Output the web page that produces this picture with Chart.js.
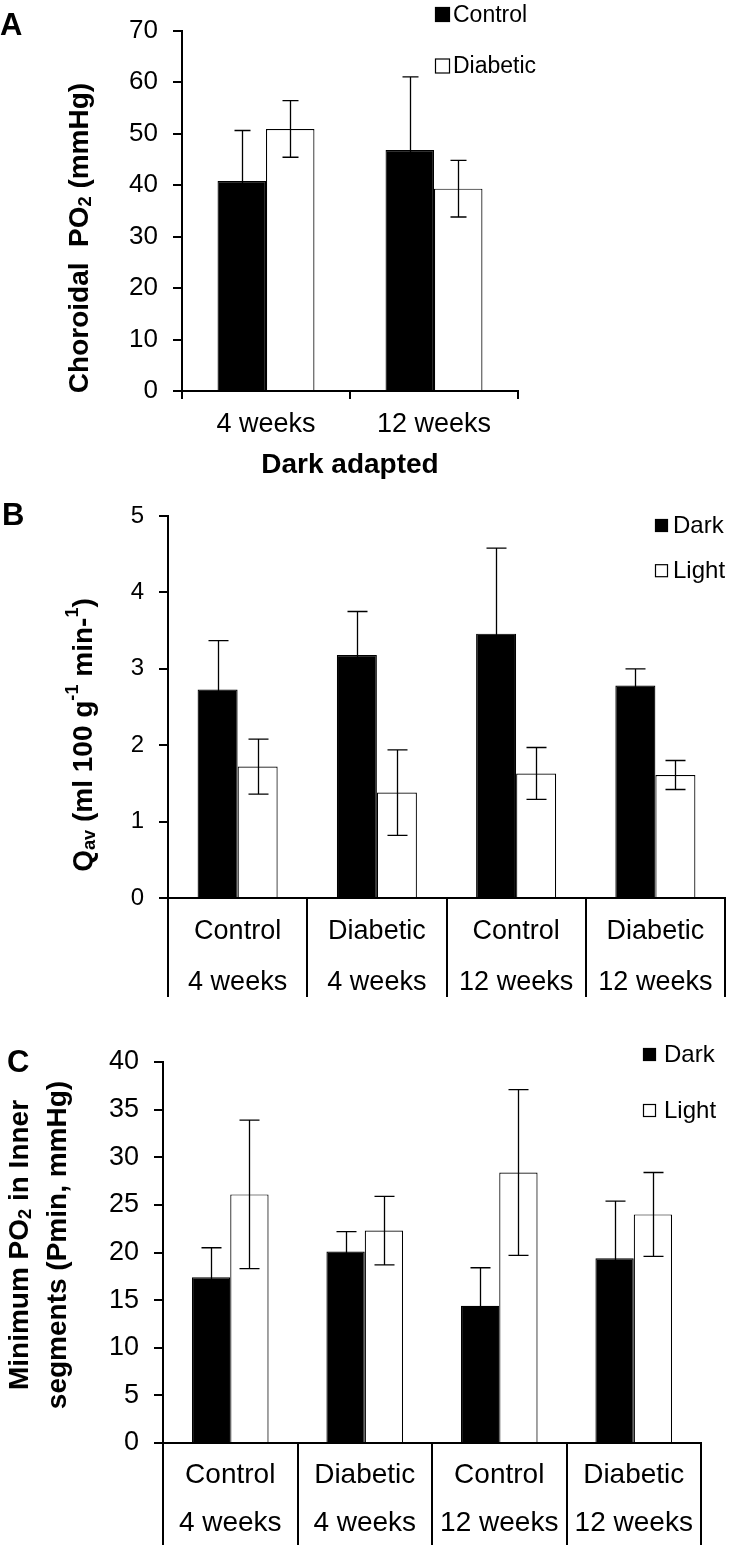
<!DOCTYPE html>
<html>
<head>
<meta charset="utf-8">
<script src="https://cdn.jsdelivr.net/npm/chart.js@4.4.1/dist/chart.umd.min.js"></script>
<style>
    body { margin: 0; background: #fff; }
    #wrap { position: relative; width: 730px; height: 1548px; }
    canvas { position: absolute; left: 0; }
</style>
</head>
<body>
<div id="wrap">
    <canvas id="chartA" width="730" height="480" style="top:0px"></canvas>
    <canvas id="chartB" width="730" height="540" style="top:480px"></canvas>
    <canvas id="chartC" width="730" height="528" style="top:1020px"></canvas>
</div>
<script>
// Panel A: choroidal PO2, dark adapted
const weeksA = ["4 weeks", "12 weeks"];
const controlA = [40.8, 46.8];
const controlSdA = [9.8, 14.2];
const diabeticA = [50.9, 39.3];
const diabeticSdA = [5.5, 5.5];

// Panels B and C share the groups
const groups = [["Control", "4 weeks"], ["Diabetic", "4 weeks"], ["Control", "12 weeks"], ["Diabetic", "12 weeks"]];

// Panel B: Qav
const darkB = [2.73, 3.18, 3.46, 2.78];
const darkSdB = [0.64, 0.57, 1.12, 0.22];
const lightB = [1.72, 1.38, 1.63, 1.61];
const lightSdB = [0.36, 0.56, 0.34, 0.19];

// Panel C: minimum PO2 in inner segments
const darkC = [17.4, 20.1, 14.4, 19.4];
const darkSdC = [3.1, 2.1, 4.0, 6.0];
const lightC = [26.1, 22.3, 28.4, 24.0];
const lightSdC = [7.8, 3.6, 8.7, 4.4];

const FONT = "'Liberation Sans', Arial, sans-serif";
Chart.defaults.font.family = FONT;
Chart.defaults.color = "#000";

// draws segments of text with sub / superscripts, centred on (0,0)
function drawRich(ctx, segs, size) {
    const parts = segs.map(s => {
        const fs = s.sub || s.sup ? size * 0.65 : size;
        ctx.font = "bold " + fs + "px " + FONT;
        return { t: s.t, fs: fs, w: ctx.measureText(s.t).width, dy: s.sub ? size * 0.22 : (s.sup ? -size * 0.38 : 0) };
    });
    const total = parts.reduce((a, p) => a + p.w, 0);
    let x = -total / 2;
    ctx.textAlign = "left";
    ctx.textBaseline = "middle";
    parts.forEach(p => {
        ctx.font = "bold " + p.fs + "px " + FONT;
        ctx.fillText(p.t, x, p.dy);
        x += p.w;
    });
}

const decor = {
    id: "decor",
    afterDatasetsDraw(chart, args, o) {
        const ctx = chart.ctx;
        const y = chart.scales.y;
        ctx.save();
        ctx.strokeStyle = "#000";
        ctx.lineWidth = 1.3;
        chart.data.datasets.forEach((ds, i) => {
            chart.getDatasetMeta(i).data.forEach((bar, j) => {
                const v = ds.data[j], sd = ds.sd[j];
                const x = Math.round(bar.x) + 0.5;
                const t = y.getPixelForValue(v + sd), b = y.getPixelForValue(v - sd);
                ctx.beginPath();
                ctx.moveTo(x, t); ctx.lineTo(x, b);
                ctx.moveTo(x - o.cap / 2, t); ctx.lineTo(x + o.cap / 2, t);
                ctx.moveTo(x - o.cap / 2, b); ctx.lineTo(x + o.cap / 2, b);
                ctx.stroke();
            });
        });
        ctx.restore();
    },
    afterDraw(chart, args, o) {
        const ctx = chart.ctx;
        ctx.save();
        // legend
        const lg = o.legend;
        chart.data.datasets.forEach((ds, i) => {
            const cy = lg.y[i];
            ctx.fillStyle = ds.backgroundColor;
            ctx.fillRect(lg.x, cy - lg.box / 2, lg.box, lg.box);
            ctx.strokeStyle = "#000";
            ctx.lineWidth = 1.2;
            ctx.strokeRect(lg.x + 0.5, cy - lg.box / 2 + 0.5, lg.box - 1, lg.box - 1);
            ctx.fillStyle = "#000";
            ctx.font = lg.size + "px " + FONT;
            ctx.textAlign = "left";
            ctx.textBaseline = "middle";
            ctx.fillText(ds.label, lg.x + lg.box + lg.gap, cy + 1);
        });
        // panel letter
        ctx.fillStyle = "#000";
        ctx.font = "bold 31px " + FONT;
        ctx.textAlign = "left";
        ctx.textBaseline = "alphabetic";
        ctx.fillText(o.letter.text, o.letter.x, o.letter.y);
        // y axis title lines
        o.yTitle.forEach(line => {
            ctx.save();
            ctx.translate(line.cx, line.cy);
            ctx.rotate(-Math.PI / 2);
            drawRich(ctx, line.segs, 28);
            ctx.restore();
        });
        // x axis title
        if (o.xTitle) {
            ctx.font = "bold 28px " + FONT;
            ctx.textAlign = "center";
            ctx.textBaseline = "middle";
            ctx.fillText(o.xTitle.text, o.xTitle.cx, o.xTitle.cy);
        }
        ctx.restore();
    }
};

function barChart(id, cfg) {
    return new Chart(document.getElementById(id), {
        type: "bar",
        data: {
            labels: cfg.labels,
            datasets: cfg.series.map(s => ({
                label: s.label,
                data: s.data,
                sd: s.sd,
                backgroundColor: s.fill,
                borderColor: "#000",
                borderWidth: 1.2,
                categoryPercentage: cfg.catPct,
                barPercentage: 1
            }))
        },
        options: {
            responsive: false,
            animation: false,
            devicePixelRatio: 1,
            layout: { padding: { left: 0, right: cfg.right, top: cfg.top, bottom: 0 } },
            plugins: {
                legend: { display: false },
                tooltip: { enabled: false },
                decor: cfg.decor
            },
            scales: {
                x: {
                    offset: true,
                    grid: { offset: true, drawOnChartArea: false, tickLength: cfg.xTick, color: "#000", lineWidth: 2 },
                    border: { color: "#000", width: 2 },
                    ticks: {
                        color: "#000", autoSkip: false, maxRotation: 0, minRotation: 0,
                        padding: cfg.xPad,
                        font: { size: cfg.xFont, lineHeight: cfg.xLine / cfg.xFont }
                    },
                    afterFit: s => { s.height = cfg.xHeight; }
                },
                y: {
                    min: 0,
                    max: cfg.yMax,
                    grid: { drawOnChartArea: false, tickLength: 9, color: "#000", lineWidth: 2 },
                    border: { color: "#000", width: 2 },
                    ticks: { stepSize: cfg.step, color: "#000", padding: 15, font: { size: cfg.yFont } },
                    afterFit: s => { s.width = cfg.left; }
                }
            }
        },
        plugins: [decor]
    });
}

barChart("chartA", {
    labels: weeksA,
    series: [
        { label: "Control", data: controlA, sd: controlSdA, fill: "#000" },
        { label: "Diabetic", data: diabeticA, sd: diabeticSdA, fill: "#fff" }
    ],
    catPct: 0.577,
    left: 182, right: 212, top: 21, xHeight: 89,
    xTick: 8, xPad: 10, xFont: 27, xLine: 31,
    yMax: 70, step: 10, yFont: 26,
    decor: {
        cap: 16,
        legend: { x: 435, y: [14.5, 66], box: 15, gap: 3, size: 23 },
        letter: { text: "A", x: 0, y: 35 },
        yTitle: [{ cx: 80, cy: 238, segs: [{ t: "Choroidal  PO" }, { t: "2", sub: true }, { t: " (mmHg)" }] }],
        xTitle: { text: "Dark adapted", cx: 350, cy: 465 }
    }
});

barChart("chartB", {
    labels: groups,
    series: [
        { label: "Dark", data: darkB, sd: darkSdB, fill: "#000" },
        { label: "Light", data: lightB, sd: lightSdB, fill: "#fff" }
    ],
    catPct: 0.575,
    left: 168, right: 5, top: 36, xHeight: 122,
    xTick: 99, xPad: -90.5, xFont: 27, xLine: 51,
    yMax: 5, step: 1, yFont: 24,
    decor: {
        cap: 20,
        legend: { x: 655, y: [45.5, 90.7], box: 13, gap: 5, size: 24 },
        letter: { text: "B", x: 2, y: 45 },
        yTitle: [{ cx: 84, cy: 255, segs: [
            { t: "Q" }, { t: "av", sub: true }, { t: " (ml 100 g" }, { t: "-1", sup: true },
            { t: " min-" }, { t: "1", sup: true }, { t: ")" }
        ] }]
    }
});

barChart("chartC", {
    labels: groups,
    series: [
        { label: "Dark", data: darkC, sd: darkSdC, fill: "#000" },
        { label: "Light", data: lightC, sd: lightSdC, fill: "#fff" }
    ],
    catPct: 0.57,
    left: 163, right: 29, top: 42, xHeight: 105,
    xTick: 102, xPad: -94, xFont: 28, xLine: 48,
    yMax: 40, step: 5, yFont: 27,
    decor: {
        cap: 20,
        legend: { x: 643, y: [34.5, 90.5], box: 13, gap: 8, size: 24 },
        letter: { text: "C", x: 7, y: 52 },
        yTitle: [
            { cx: 20, cy: 225, segs: [{ t: "Minimum PO" }, { t: "2", sub: true }, { t: " in Inner" }] },
            { cx: 58, cy: 225, segs: [{ t: "segments (Pmin, mmHg)" }] }
        ]
    }
});
</script>
</body>
</html>
